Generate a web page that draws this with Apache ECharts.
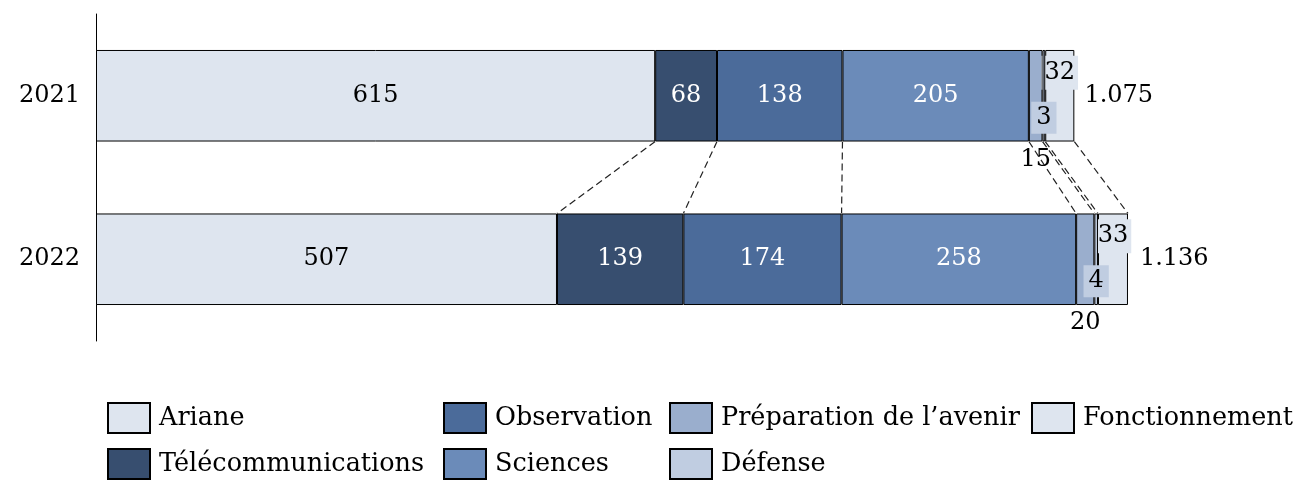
<!DOCTYPE html>
<html><head><meta charset="utf-8">
<script src="https://cdn.jsdelivr.net/npm/echarts@6/dist/echarts.min.js"></script>
<style>html,body{margin:0;padding:0;background:#fff}#c{width:1309px;height:496px}</style>
</head><body><div id="c"></div>
<script>
const years = ['2021', '2022'];
const seriesNames = ['Ariane', 'Télécommunications', 'Observation', 'Sciences', 'Préparation de l\u2019avenir', 'Défense', 'Fonctionnement'];
const ariane = [615, 507];
const telecom = [68, 139];
const observation = [138, 174];
const sciences = [205, 258];
const preparation = [15, 20];
const defense = [3, 4];
const fonctionnement = [32, 33];
const totals = [1075, 1136];
const totalLabels = ['1.075', '1.136'];

const colors = ['#dee5ef', '#374e6f', '#4b6b9a', '#6b8bb9', '#9aaecd', '#c0cde1', '#dee5ef'];
const FONT = 'DejaVu Serif';
const FS = 24;
const values = [ariane, telecom, observation, sciences, preparation, defense, fonctionnement];
const BAR_RATIO = 0.56;

// cumulative boundaries for connectors
const bounds = [];
for (let i = 0; i < values.length; i++) {
  const c = [0, 0];
  for (let j = 0; j <= i; j++) { c[0] += values[j][0]; c[1] += values[j][1]; }
  bounds.push([c[0], 0, c[1]]);
}

const labelCfg = [
  { show: true, position: 'inside', color: '#000' },
  { show: true, position: 'inside', color: '#fff' },
  { show: true, position: 'inside', color: '#fff' },
  { show: true, position: 'inside', color: '#fff' },
  { show: true, position: 'bottom', distance: 6, color: '#000' },
  { show: true, position: 'inside', offset: [0, 22], color: '#000', backgroundColor: '#c0cde1', padding: [5, 5, 3, 5] },
  { show: true, position: 'inside', offset: [0, -23], color: '#000', backgroundColor: '#dee5ef', padding: [6, 3, 4, 3] }
];

const series = seriesNames.map((n, i) => ({
  name: n, type: 'bar', stack: 'a',
  barCategoryGap: '44%',
  z: i === 5 ? 4 : (i === 6 ? 3 : 2),
  itemStyle: { color: colors[i], borderColor: '#000', borderWidth: 1 },
  label: Object.assign({ fontFamily: FONT, fontSize: FS }, labelCfg[i]),
  data: values[i]
}));

series.push({
  type: 'custom', name: 'connectors', silent: true, z: 1,
  encode: { x: [0, 2], y: 1 },
  data: bounds,
  renderItem: function (params, api) {
    const p1 = api.coord([api.value(0), 0]);
    const p2 = api.coord([api.value(2), 1]);
    const h = api.size([0, 1])[1] * BAR_RATIO / 2;
    return {
      type: 'line',
      shape: { x1: p1[0], y1: p1[1] + h, x2: p2[0], y2: p2[1] - h },
      style: { stroke: '#222', lineWidth: 1.2, lineDash: [7, 4] }
    };
  }
});

series.push({
  type: 'custom', name: 'totals', silent: true,
  encode: { x: 0, y: 1 },
  data: totals.map((t, i) => [t, i]),
  renderItem: function (params, api) {
    const p = api.coord([api.value(0), api.value(1)]);
    return {
      type: 'text',
      style: { text: totalLabels[params.dataIndex], x: p[0] + 11, y: p[1], align: 'left', verticalAlign: 'middle',
        fontFamily: FONT, fontSize: FS, fill: '#000' }
    };
  }
});

function legend(names, left) {
  return {
    data: names, orient: 'vertical', left: left, top: 397,
    icon: 'rect', itemWidth: 42, itemHeight: 30, itemGap: 14,
    itemStyle: { borderColor: '#000', borderWidth: 2 },
    textStyle: { fontFamily: FONT, fontSize: 25.5, color: '#000', padding: [0, 0, 0, 4] },
    selectedMode: false
  };
}

const chart = echarts.init(document.getElementById('c'));
chart.setOption({
  animation: false,
  grid: { left: 96, top: 14, width: 1182, height: 327 },
  xAxis: { type: 'value', min: 0, max: 1300, show: false },
  yAxis: {
    type: 'category', data: years, inverse: true,
    axisLine: { show: true, lineStyle: { color: '#000', width: 1 } },
    axisTick: { show: false },
    axisLabel: { fontFamily: FONT, fontSize: FS, color: '#000', margin: 16 }
  },
  legend: [
    legend([seriesNames[0], seriesNames[1]], 102),
    legend([seriesNames[2], seriesNames[3]], 438),
    legend([seriesNames[4], seriesNames[5]], 664),
    legend([seriesNames[6]], 1026)
  ],
  series: series
});
</script></body></html>
